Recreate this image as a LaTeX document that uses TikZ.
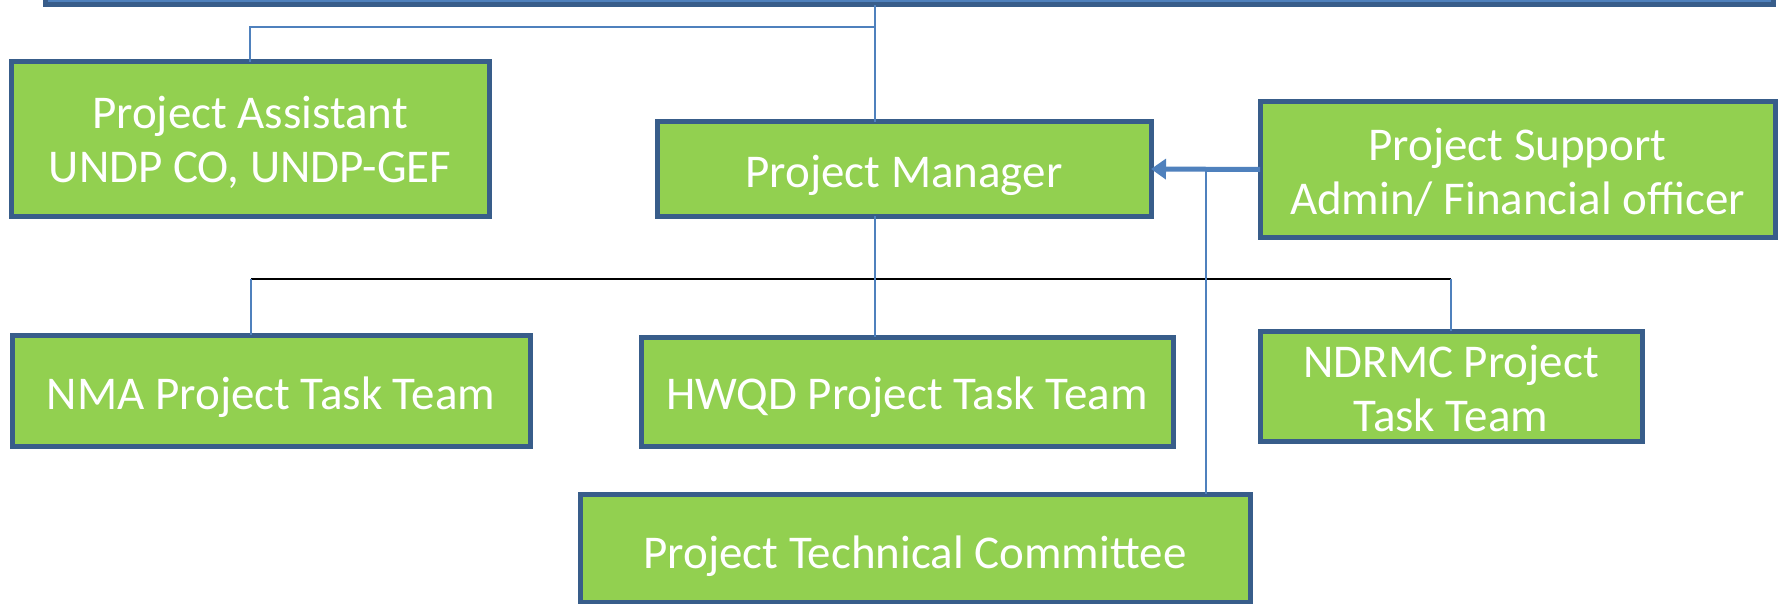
\documentclass[tikz,border=0pt]{standalone}
\usepackage{fontspec}
\setmainfont{Carlito}
\usetikzlibrary{arrows.meta}
\definecolor{boxgreen}{HTML}{92D050}
\definecolor{boxborder}{HTML}{385D8A}
\definecolor{connblue}{HTML}{4F81BD}
\tikzset{
  orgbox/.style={draw=boxborder, fill=boxgreen, line width=5pt, rectangle,
    inner sep=0pt, outer sep=0pt},
  boxtext/.style={text=white, align=center, inner sep=0pt, outer sep=0pt,
    font=\fontsize{47}{54}\selectfont},
  topbox/.style={draw=boxborder, fill=connblue, line width=5pt, rectangle,
    inner sep=0pt, outer sep=0pt},
  conn/.style={draw=connblue, line width=2.2pt},
  blackline/.style={draw=black, line width=2.2pt},
  mainarrow/.style={draw=connblue, line width=5pt, -{Triangle[length=15pt,width=20pt]}}
}
\begin{document}
\begin{tikzpicture}[x=1pt,y=-1pt]
\clip (0,0) rectangle (1779,604);
\fill[white] (0,0) rectangle (1779,604);
% top box (mostly outside the picture)
\node[topbox, minimum width=1728pt, minimum height=105pt] (top) at (909,-47.5) {};
% boxes
\node[orgbox, minimum width=478pt, minimum height=154pt] (PA) at (250,139) {};
\node[orgbox, minimum width=494pt, minimum height=94pt] (PM) at (904,169) {};
\node[orgbox, minimum width=515pt, minimum height=135pt] (PS) at (1517.5,169.5) {};
\node[orgbox, minimum width=518pt, minimum height=111pt] (NMA) at (271,390.5) {};
\node[orgbox, minimum width=532pt, minimum height=109pt] (HWQD) at (907,391.5) {};
\node[orgbox, minimum width=382pt, minimum height=110pt] (NDRMC) at (1451,386) {};
\node[orgbox, minimum width=670pt, minimum height=108pt] (PTC) at (915,548) {};
% texts
\node[boxtext] (PAt) at ([yshift=-3.5pt]PA.center) {Project Assistant\\UNDP CO, UNDP-GEF};
\node[boxtext] (PMt) at ([yshift=-6pt]PM.center) {Project Manager};
\node[boxtext] (PSt) at ([yshift=-2.5pt]PS.center) {Project Support\\Admin/ Financial officer};
\node[boxtext] (NMAt) at ([yshift=-7pt]NMA.center) {NMA Project Task Team};
\node[boxtext] (HWQDt) at ([yshift=-6pt]HWQD.center) {HWQD Project Task Team};
\node[boxtext] (NDRMCt) at ([yshift=-2.5pt]NDRMC.center) {NDRMC Project\\Task Team};
\node[boxtext] (PTCt) at ([yshift=-8pt]PTC.center) {Project Technical Committee};
% junction coordinates
\coordinate (j1) at (875,27);
\coordinate (n1) at (251,279);
\coordinate (v1) at (1206,170);
% connectors
\draw[conn] (j1 |- top.south) -- (j1 |- PM.north);
\draw[conn] (PA.north) -- (PA.north |- j1) -- (j1);
\draw[blackline] (n1) -- (NDRMC.north |- n1);
\draw[conn] (j1 |- PM.south) -- (j1 |- HWQD.north);
\draw[conn] (n1) -- (n1 |- NMA.north);
\draw[conn] (NDRMC.north |- n1) -- (NDRMC.north);
\draw[conn] (v1) -- (v1 |- PTC.north);
\draw[mainarrow] (PS.west) -- (PM.east);
\end{tikzpicture}
\end{document}
